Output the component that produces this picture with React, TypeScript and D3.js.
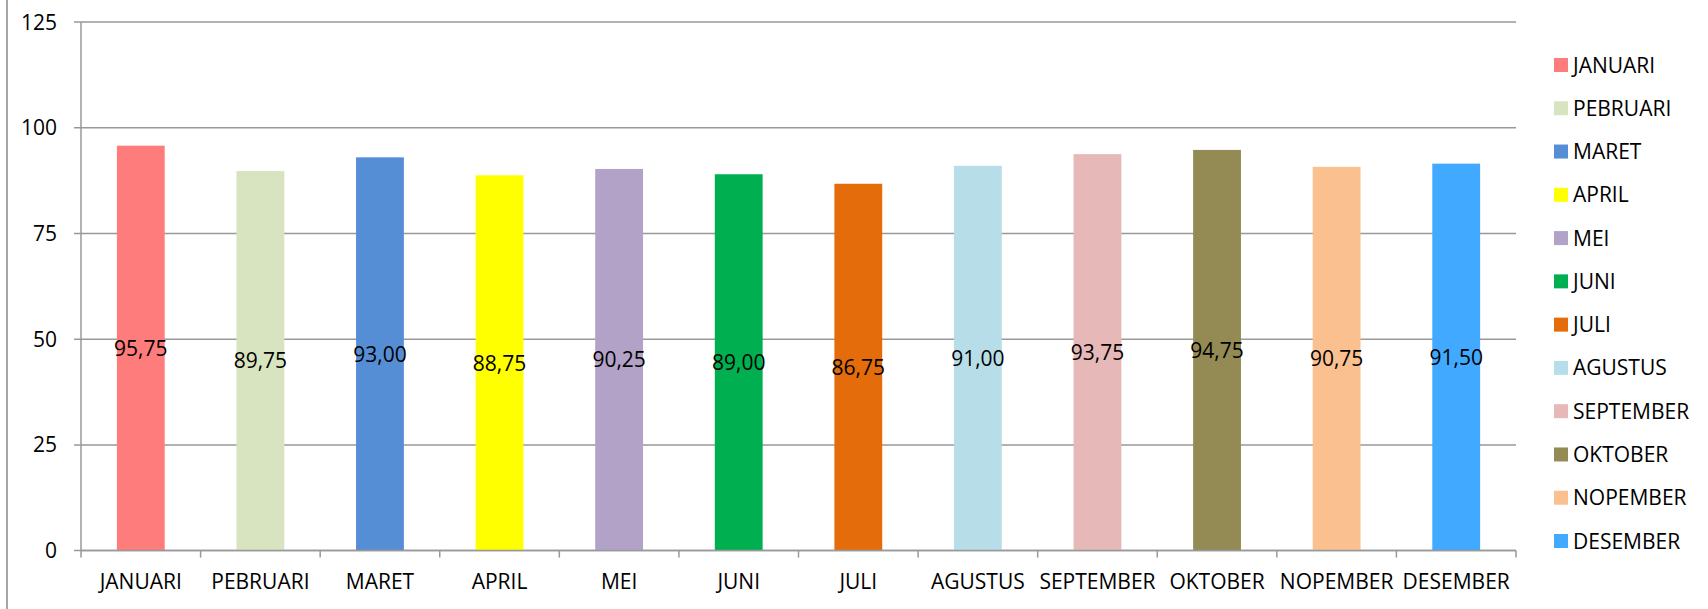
import React from "react";
import * as d3 from "d3";

const months = ["JANUARI","PEBRUARI","MARET","APRIL","MEI","JUNI","JULI","AGUSTUS","SEPTEMBER","OKTOBER","NOPEMBER","DESEMBER"];
const values = [95.75, 89.75, 93.0, 88.75, 90.25, 89.0, 86.75, 91.0, 93.75, 94.75, 90.75, 91.5];
const colors = ["#FF7C7C","#D8E4BF","#558ED5","#FFFF00","#B3A2C7","#00B050","#E46C0A","#B7DEE8","#E6B9B8","#948A54","#FAC090","#41A9FF"];
const yTicks = [0, 25, 50, 75, 100, 125];

const W = 1708, H = 609;
const left = 81, right = 1516, top = 22, bottom = 550.6;
const FONT = "'Open Sans', sans-serif";
const GRID = "#999999";
const FS = 21;

export default function App() {
  const x = d3.scaleBand<string>().domain(months).range([left, right]).paddingInner(0.6).paddingOuter(0.3);
  const xb = d3.scaleBand<string>().domain(months).range([left, right]);
  const y = d3.scaleLinear().domain([0, 125]).range([bottom, top]);
  const fmt = (v: number) => v.toFixed(2).replace(".", ",");
  const legendY = d3.scaleLinear().domain([0, 11]).range([65, 541]);

  return (
    <svg width={W} height={H} style={{ position: "absolute", left: 0, top: 0, background: "#fff" }} fontFamily={FONT}>
      <rect x={0} y={0} width={W} height={H} fill="#fff" />
      <line x1={7} x2={7} y1={0} y2={H} stroke="#a6a6a6" strokeWidth={2} />
      {yTicks.map((t) => (
        <g key={t}>
          <line x1={74} x2={right} y1={y(t)} y2={y(t)} stroke={GRID} strokeWidth={1.5} />
          <text x={57} y={y(t)} dy="0.36em" textAnchor="end" fontSize={FS} fill="#000">{t}</text>
        </g>
      ))}
      <line x1={left} x2={left} y1={top} y2={bottom} stroke={GRID} strokeWidth={1.5} />
      {months.map((m) => (
        <line key={"t" + m} x1={xb(m)!} x2={xb(m)!} y1={bottom} y2={bottom + 7} stroke={GRID} strokeWidth={1.5} />
      ))}
      <line x1={right} x2={right} y1={bottom} y2={bottom + 7} stroke={GRID} strokeWidth={1.5} />
      {months.map((m, i) => (
        <rect key={"b" + m} x={x(m)!} y={y(values[i])} width={x.bandwidth()} height={y(0) - y(values[i])} fill={colors[i]} />
      ))}
      <line x1={left} x2={right} y1={bottom} y2={bottom} stroke={GRID} strokeWidth={1.5} />
      {months.map((m, i) => (
        <text key={"v" + m} x={x(m)! + x.bandwidth() / 2} y={(y(values[i]) + y(0)) / 2} dy="0.36em" textAnchor="middle" fontSize={FS} fill="#000">{fmt(values[i])}</text>
      ))}
      {months.map((m) => (
        <text key={"l" + m} x={xb(m)! + xb.bandwidth() / 2} y={589} textAnchor="middle" fontSize={FS} fill="#000">{m}</text>
      ))}
      {months.map((m, i) => (
        <g key={"lg" + m}>
          <rect x={1554} y={legendY(i) - 7} width={14} height={14} fill={colors[i]} />
          <text x={1573} y={legendY(i)} dy="0.36em" fontSize={FS} fill="#000">{m}</text>
        </g>
      ))}
    </svg>
  );
}
